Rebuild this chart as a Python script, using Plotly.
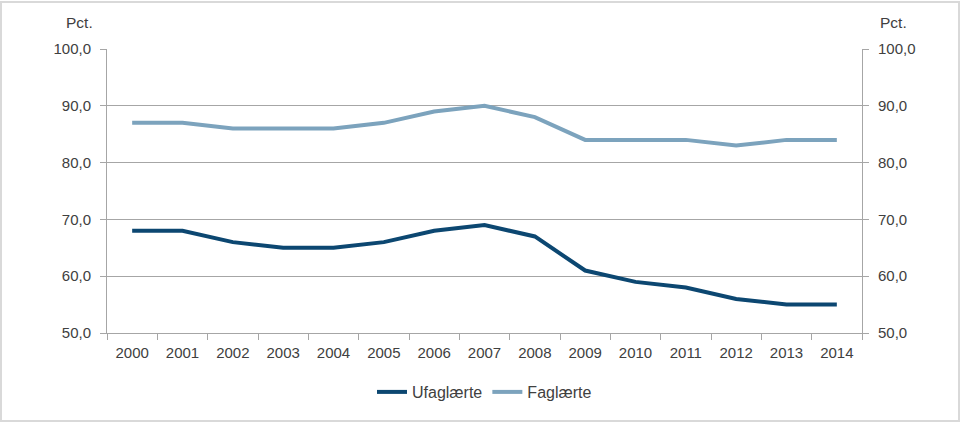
import plotly.graph_objects as go

years = ["2000", "2001", "2002", "2003", "2004", "2005", "2006", "2007",
         "2008", "2009", "2010", "2011", "2012", "2013", "2014"]
ufaglaerte = [68, 68, 66, 65, 65, 66, 68, 69, 67, 61, 59, 58, 56, 55, 55]
faglaerte = [87, 87, 86, 86, 86, 87, 89, 90, 88, 84, 84, 84, 83, 84, 84]
y_ticks = [50, 60, 70, 80, 90, 100]
y_labels = ["50,0", "60,0", "70,0", "80,0", "90,0", "100,0"]

font_family = "Liberation Sans, Arial, sans-serif"
txt = "#404040"
grid = "#a6a6a6"

fig = go.Figure()
fig.add_trace(go.Scatter(x=years, y=ufaglaerte, mode="lines", name="Ufaglærte",
                         line=dict(color="#0c4771", width=4)))
fig.add_trace(go.Scatter(x=years, y=faglaerte, mode="lines", name="Faglærte",
                         line=dict(color="#7ca3bd", width=4)))
fig.add_trace(go.Scatter(x=years, y=faglaerte, mode="lines", yaxis="y2",
                         showlegend=False, hoverinfo="skip",
                         line=dict(color="rgba(0,0,0,0)", width=0)))

W, H = 755, 284
fig.update_layout(
    width=960, height=422,
    margin=dict(l=107, r=98, t=49, b=89, autoexpand=False),
    paper_bgcolor="white", plot_bgcolor="white",
    font=dict(family=font_family, size=15, color=txt),
    xaxis=dict(type="category", range=[-0.5, 14.5], showgrid=False, showline=True,
               linecolor=grid, linewidth=1, ticks="outside", tickson="boundaries",
               ticklen=6, tickcolor=grid, ticklabelstandoff=6,
               tickfont=dict(size=15, color=txt)),
    yaxis=dict(range=[50, 100], tickvals=y_ticks, ticktext=y_labels,
               showgrid=True, gridcolor=grid, gridwidth=1, showline=True,
               linecolor=grid, ticks="outside", ticklen=6, tickcolor=grid,
               ticklabelstandoff=6,
               zeroline=False, tickfont=dict(size=15, color=txt)),
    yaxis2=dict(range=[50, 100], tickvals=y_ticks, ticktext=y_labels,
                overlaying="y", side="right", showgrid=False, showline=True,
                linecolor=grid, ticks="outside", ticklen=6, tickcolor=grid,
                ticklabelstandoff=6,
                zeroline=False, tickfont=dict(size=15, color=txt)),
    legend=dict(orientation="h", x=0.5, xanchor="center", y=-42/H, yanchor="top",
                font=dict(size=16, color=txt), itemwidth=30,
                bgcolor="rgba(0,0,0,0)"),
    showlegend=True,
    annotations=[
        dict(text="Pct.", x=-12/W, y=1 + 16/H, xref="paper", yref="paper",
             xanchor="right", yanchor="bottom", showarrow=False,
             font=dict(size=15.5, color=txt)),
        dict(text="Pct.", x=1 + 16/W, y=1 + 16/H, xref="paper", yref="paper",
             xanchor="left", yanchor="bottom", showarrow=False,
             font=dict(size=15.5, color=txt)),
    ],
    shapes=[dict(type="rect", xref="paper", yref="paper",
                 x0=-106/W, x1=1 + 97/W, y0=-88/H, y1=1 + 47/H,
                 line=dict(color="#d9d9d9", width=2), fillcolor="rgba(0,0,0,0)")],
)

fig.write_html("out.html", config={"displayModeBar": False},
               post_script="document.body.style.margin='0';document.body.style.overflow='hidden';")
